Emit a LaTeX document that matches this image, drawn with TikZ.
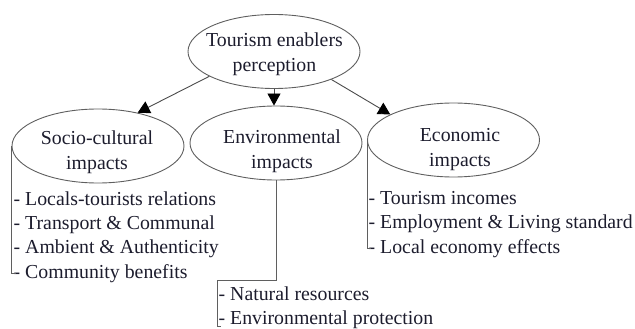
\documentclass[tikz,border=0pt]{standalone}
\usepackage{fontspec}
\setmainfont{Liberation Serif}
\usetikzlibrary{shapes.geometric,arrows.meta}
\definecolor{linec}{RGB}{95,95,95}
\definecolor{arrc}{RGB}{75,75,75}
\definecolor{textc}{RGB}{28,28,45}
\tikzset{
  ell/.style={ellipse,draw=linec,line width=0.9pt,minimum width=172pt,minimum height=74pt,inner sep=0pt},
  etext/.style={anchor=base,inner sep=0pt,text=textc,font=\fontsize{19.8}{25}\selectfont},
  ltext/.style={anchor=base west,inner sep=0pt,text=textc,font=\fontsize{19.8}{24.4}\selectfont},
  arr/.style={draw=arrc,line width=0.9pt,-{Triangle[length=12pt,width=13pt,color=black]}},
  brk/.style={draw=linec,line width=0.9pt}
}
\newcommand{\ctab}[1]{\begin{tabular}[t]{@{}c@{}}#1\end{tabular}}
\newcommand{\ltab}[1]{\begin{tabular}[t]{@{}l@{}}#1\end{tabular}}
\begin{document}
\begin{tikzpicture}[x=1pt,y=-1pt]
\useasboundingbox (0,0) rectangle (635,329);
% ellipses
\node[ell] (top) at (274,51.5) {};
\node[ell] (soc) at (98,146) {};
\node[ell] (env) at (276,143) {};
\node[ell] (eco) at (453.5,140) {};
% ellipse texts
\node[etext] (topt) at (274.5,47) {\ctab{Tourism enablers\\perception}};
\node[etext] (soct) at (97,144.5) {\ctab{Socio-cultural\\impacts}};
\node[etext] (envt) at (282,143.3) {\ctab{Environmental\\impacts}};
\node[etext] (ecot) at (460,141.7) {\ctab{Economic\\impacts}};
% arrows
\draw[arr] (top.201) -- (soc.40);
\draw[arr] (top.south) -- (top.south |- env.north);
\draw[arr] (top.-26) -- (eco.158);
% lists
\node[ltext] (socl) at (13.5,205) {\ltab{- Locals-tourists relations\\- Transport \& Communal\\- Ambient \& Authenticity\\- Community benefits}};
\node[ltext] (ecol) at (368.5,204.3) {\ltab{- Tourism incomes\\- Employment \& Living standard\\- Local economy effects}};
\node[ltext] (envl) at (218.5,300) {\ltab{- Natural resources\\- Environmental protection}};
% brackets
\coordinate (socEnd) at (15.5,273.5);
\coordinate (ecoEnd) at (370.5,248.5);
\coordinate (envBend) at (217.5,280);
\coordinate (envEnd) at (220.5,326);
\draw[brk] (soc.west) |- (socEnd);
\draw[brk] (eco.west) |- (ecoEnd);
\draw[brk] (env.south) |- (envBend) |- (envEnd);
\end{tikzpicture}
\end{document}
